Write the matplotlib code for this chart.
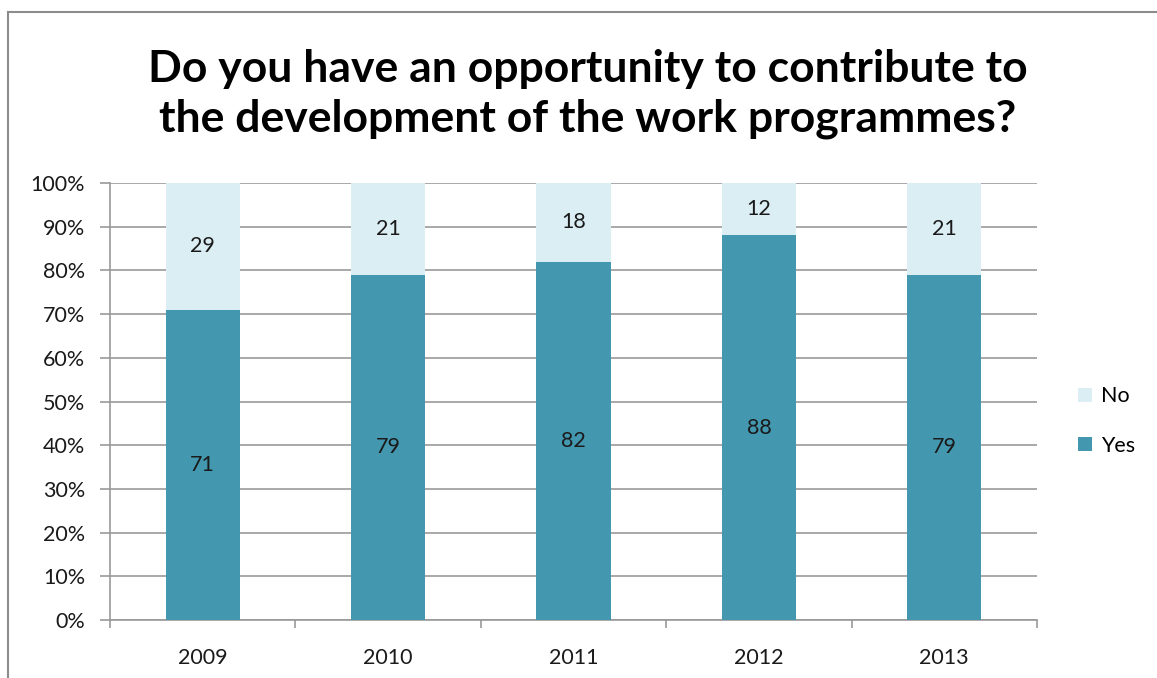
import matplotlib
matplotlib.use("Agg")
import matplotlib.pyplot as plt
from matplotlib.patches import Patch
from matplotlib.lines import Line2D

plt.rcParams['font.family'] = ['Lato', 'DejaVu Sans']

# survey answers per year (percent)
years = ['2009', '2010', '2011', '2012', '2013']
yes_pct = [71, 79, 82, 88, 79]
no_pct = [29, 21, 18, 12, 21]

yes_color = '#4398b0'
no_color = '#dbeef4'
grid_color = '#999999'
text_color = '#1a1a1a'

fig = plt.figure(figsize=(11.57, 6.78), dpi=100)
ax = fig.add_axes([110 / 1157, 1 - 620 / 678, 927 / 1157, 437 / 678])

pos = list(range(len(years)))
ax.bar(pos, yes_pct, width=0.4, color=yes_color, zorder=3)
ax.bar(pos, no_pct, width=0.4, bottom=yes_pct, color=no_color, zorder=3)

# value labels in the middle of each segment
for i in pos:
    ax.text(i, yes_pct[i] / 2, str(yes_pct[i]), ha='center', va='center',
            fontsize=15.5, color=text_color, zorder=4)
    ax.text(i, yes_pct[i] + no_pct[i] / 2, str(no_pct[i]), ha='center',
            va='center', fontsize=15.5, color=text_color, zorder=4)

ax.set_xlim(-0.5, len(years) - 0.5)
ax.set_ylim(0, 100)
ax.set_yticks(range(0, 101, 10))
ax.set_yticklabels([f'{v}%' for v in range(0, 101, 10)], fontsize=15.5, color=text_color)
ax.set_xticks(pos)
ax.set_xticklabels(years, fontsize=15.5, color=text_color)
ax.set_xticks([p - 0.5 for p in range(len(years) + 1)], minor=True)

ax.tick_params(axis='x', which='major', length=0, pad=20)
ax.tick_params(axis='x', which='minor', length=6, width=1.2, color=grid_color, direction='out')
ax.tick_params(axis='y', length=7, width=1.2, color=grid_color, direction='out', pad=11)

ax.yaxis.grid(True, color=grid_color, linewidth=1.2, zorder=0)
ax.set_axisbelow(True)
for side in ['top', 'right']:
    ax.spines[side].set_visible(False)
for side in ['left', 'bottom']:
    ax.spines[side].set_color(grid_color)
    ax.spines[side].set_linewidth(1.2)

fig.text(0.508, 1 - 94 / 678, 'Do you have an opportunity to contribute to\nthe development of the work programmes?',
         ha='center', va='center', fontsize=32, fontweight='bold', linespacing=1.26)

handles = [Patch(facecolor=no_color, label='No'), Patch(facecolor=yes_color, label='Yes')]
fig.legend(handles=handles, loc='center left', bbox_to_anchor=(1078 / 1157, 1 - 421 / 678),
           frameon=False, fontsize=15.5, handlelength=0.65, handleheight=0.65,
           handletextpad=0.4, labelspacing=1.35, borderpad=0, borderaxespad=0)

# outer chart border (only top and left edges fall inside the image)
fig.add_artist(Line2D([8 / 1157, 8 / 1157], [0, 1 - 12 / 678], transform=fig.transFigure,
                      color='#8c8c8c', linewidth=1.5))
fig.add_artist(Line2D([8 / 1157, 1], [1 - 12 / 678, 1 - 12 / 678], transform=fig.transFigure,
                      color='#8c8c8c', linewidth=1.5))

fig.savefig('out.png', dpi=100)
